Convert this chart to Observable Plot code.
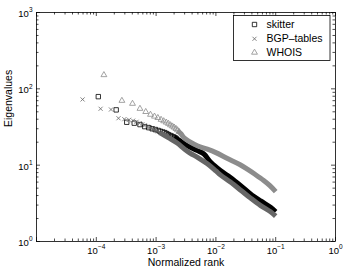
<!DOCTYPE html>
<html><head><meta charset="utf-8">
<script src="https://cdn.jsdelivr.net/npm/d3@7"></script>
<script src="https://cdn.jsdelivr.net/npm/@observablehq/plot@0.6"></script>
<style>body{margin:0;background:#fff;} #chart{width:346px;height:273px;}</style>
</head><body><div id="chart"></div>
<script>
// ---- data ----
const seriesNames = ["skitter", "BGP–tables", "WHOIS"];
const seriesColors = ["#000000", "#666666", "#8c8c8c"];
const seriesSymbols = ["square2", "times", "triangle2"];

// sparse leading points (normalized rank, eigenvalue)
const skitterRank = [1.08e-4, 2.15e-4, 3.23e-4, 4.31e-4, 5.38e-4, 6.46e-4, 7.53e-4, 8.61e-4, 9.69e-4, 1.08e-3, 1.18e-3, 1.29e-3, 1.40e-3, 1.51e-3, 1.61e-3, 1.72e-3, 1.83e-3, 1.94e-3, 2.05e-3, 2.15e-3];
const skitterValue = [79, 53, 36.5, 35.5, 34, 32, 31, 30, 29.3, 28.5, 27.8, 27.2, 26.7, 25.9, 25.1, 24.5, 24, 23.5, 23, 22.5];
const bgpRank = [5.9e-5, 1.18e-4, 1.76e-4, 2.35e-4, 2.94e-4, 3.53e-4, 4.12e-4, 4.71e-4, 5.29e-4, 5.88e-4, 6.47e-4, 7.06e-4, 7.65e-4, 8.24e-4, 8.82e-4, 9.41e-4, 1.0e-3, 1.06e-3, 1.12e-3, 1.18e-3];
const bgpValue = [72.6, 54.8, 53.6, 41.2, 40, 39.3, 38.3, 37, 35.5, 34.3, 33.2, 32, 31.2, 30.4, 29.7, 29, 28.4, 27.8, 27.2, 26.6];
const whoisRank = [1.34e-4, 2.68e-4, 4.03e-4, 5.37e-4, 6.71e-4, 8.05e-4, 9.40e-4, 1.07e-3, 1.21e-3, 1.34e-3, 1.48e-3, 1.61e-3, 1.74e-3, 1.88e-3, 2.01e-3, 2.15e-3, 2.28e-3, 2.42e-3];
const whoisValue = [152, 70, 64, 55, 50, 46, 43.5, 41.7, 39.5, 37.8, 36.3, 35, 33.5, 32.3, 31.2, 30, 28.8, 27.5];

// dense tails (markers overlap into a solid band)
const skitterBandRank = [2.0e-3, 2.25e-3, 3.3e-3, 4.9e-3, 6.3e-3, 8.2e-3, 1.19e-2, 1.75e-2, 2.6e-2, 3.8e-2, 5.6e-2, 8.2e-2, 1.0e-1];
const skitterBandValue = [23.2, 22.1, 18.0, 15.5, 14.0, 10.9, 8.5, 6.9, 5.4, 4.2, 3.4, 2.8, 2.45];
const bgpBandRank = [1.15e-3, 1.6e-3, 2.25e-3, 3.0e-3, 3.75e-3, 5.0e-3, 7.2e-3, 1.0e-2, 1.2e-2, 1.75e-2, 2.6e-2, 3.8e-2, 5.6e-2, 8.2e-2, 1.0e-1];
const bgpBandValue = [26.8, 23, 19.5, 16.2, 14.3, 12.6, 10.4, 8.4, 7.4, 6.0, 4.7, 3.7, 2.95, 2.45, 2.15];
const whoisBandRank = [2.3e-3, 2.6e-3, 2.9e-3, 3.75e-3, 5.0e-3, 7.2e-3, 1.0e-2, 1.56e-2, 2.5e-2, 3.4e-2, 4.5e-2, 6.3e-2, 8.0e-2, 1.0e-1];
const whoisBandValue = [28.2, 25.8, 23, 20, 17.8, 16.2, 14.6, 12.2, 10.2, 8.8, 7.6, 6.3, 5.4, 4.5];

// axis ticks
const xTickValues = [1e-4, 1e-3, 1e-2, 1e-1, 1];
const xTickExps = ["−4", "−3", "−2", "−1", "0"];
const yTickValues = [1, 10, 100, 1000];
const yTickExps = ["0", "1", "2", "3"];
const xLabel = "Normalized rank";
const yLabel = "Eigenvalues";

// ---- build ----
const W = 346, H = 273, mL = 36, mR = 11, mT = 12, mB = 32;
const innerW = W - mL - mR, innerH = H - mT - mB;

const pair = (rs, vs) => rs.map((r, i) => ({r, v: vs[i]}));
const sparse = [pair(skitterRank, skitterValue), pair(bgpRank, bgpValue), pair(whoisRank, whoisValue)];
const bands = [pair(skitterBandRank, skitterBandValue), pair(bgpBandRank, bgpBandValue), pair(whoisBandRank, whoisBandValue)];

const xMajor = [1e-5, 1e-4, 1e-3, 1e-2, 1e-1, 1];
const xMinor = [];
for (let e = -5; e < 0; e++) for (let m = 2; m <= 9; m++) xMinor.push(m * 10 ** e);
const yMajor = [1, 10, 100, 1000];
const yMinor = [];
for (let e = 0; e < 3; e++) for (let m = 2; m <= 9; m++) yMinor.push(m * 10 ** e);

const tickStyle = {stroke: "#000", strokeWidth: 0.7};
const marks = [
  Plot.frame({stroke: "#000", strokeWidth: 0.8}),
  Plot.tickX(xMajor, {x: d => d, insetTop: innerH - 4, ...tickStyle}),
  Plot.tickX(xMinor, {x: d => d, insetTop: innerH - 2.5, ...tickStyle}),
  Plot.tickX(xMajor, {x: d => d, insetBottom: innerH - 4, ...tickStyle}),
  Plot.tickX(xMinor, {x: d => d, insetBottom: innerH - 2.5, ...tickStyle}),
  Plot.tickY(yMajor, {y: d => d, insetRight: innerW - 4, ...tickStyle}),
  Plot.tickY(yMinor, {y: d => d, insetRight: innerW - 2.5, ...tickStyle}),
  Plot.tickY(yMajor, {y: d => d, insetLeft: innerW - 4, ...tickStyle}),
  Plot.tickY(yMinor, {y: d => d, insetLeft: innerW - 2.5, ...tickStyle}),
];
for (let s = 0; s < 3; s++) {
  marks.push(Plot.line(bands[s], {x: "r", y: "v", stroke: seriesColors[s], strokeWidth: 5, curve: "catmull-rom", strokeLinecap: "butt"}));
  marks.push(Plot.dot(sparse[s], {x: "r", y: "v", symbol: seriesSymbols[s], r: s === 1 ? 2.0 : 2.8, stroke: seriesColors[s], strokeWidth: 0.8, fill: "none"}));
}
marks.push(
  Plot.text(xTickValues, {x: d => d, frameAnchor: "bottom", dy: 12.4, text: (d, i) => "10^" + xTickExps[i], fontSize: 9.5, fill: "#000"}),
  Plot.text(yTickValues, {y: d => d, frameAnchor: "left", dx: -4, dy: 1.5, textAnchor: "end", text: (d, i) => "10^" + yTickExps[i], fontSize: 9.5, fill: "#000"}),
  Plot.text([xLabel], {frameAnchor: "bottom", dy: 24.2, text: d => d, fontSize: 10.5, fill: "#000"}),
  Plot.text([yLabel], {frameAnchor: "left", dx: -28, rotate: -90, text: d => d, fontSize: 10.5, fill: "#000"})
);

const plot = Plot.plot({
  width: W, height: H,
  marginLeft: mL, marginRight: mR, marginTop: mT, marginBottom: mB,
  x: {type: "log", domain: [1e-5, 1], axis: null},
  y: {type: "log", domain: [1, 1000], axis: null},
  style: {fontFamily: "'Liberation Sans', Arial, Helvetica, sans-serif", fontSize: "10px", background: "#fff", overflow: "visible"},
  marks
});

// superscripts for 10^n tick labels
d3.select(plot).selectAll("text").each(function () {
  const m = /^10\^(.+)$/.exec(this.textContent);
  if (m) {
    this.textContent = "10";
    d3.select(this).append("tspan").attr("dy", -4.6).attr("font-size", 6.5).text(m[1]);
  }
});

// legend box
const svg = d3.select(plot);
const lg = svg.append("g").attr("font-family", "'Liberation Sans', Arial, Helvetica, sans-serif")
  .attr("font-size", 10.5).attr("text-anchor", "start");
lg.append("rect").attr("x", 233.5).attr("y", 15.5).attr("width", 96.5).attr("height", 45)
  .attr("fill", "#fff").attr("stroke", "#000").attr("stroke-width", 0.8);
const symMap = {"square2": d3.symbolSquare2, "times": d3.symbolTimes, "triangle2": d3.symbolTriangle2};
const rowY = [24.5, 38.8, 52.5];
seriesNames.forEach((name, i) => {
  const r = i === 1 ? 2.0 : 2.8;
  lg.append("path").attr("d", d3.symbol(symMap[seriesSymbols[i]], Math.PI * r * r)())
    .attr("transform", `translate(254.5,${rowY[i]})`)
    .attr("fill", "none").attr("stroke", seriesColors[i]).attr("stroke-width", 0.8);
  lg.append("text").attr("x", 266.5).attr("y", rowY[i]).attr("dy", "0.35em")
    .attr("text-anchor", "start").attr("fill", "#000").text(name);
});

document.getElementById("chart").appendChild(plot);
</script>
</body></html>
